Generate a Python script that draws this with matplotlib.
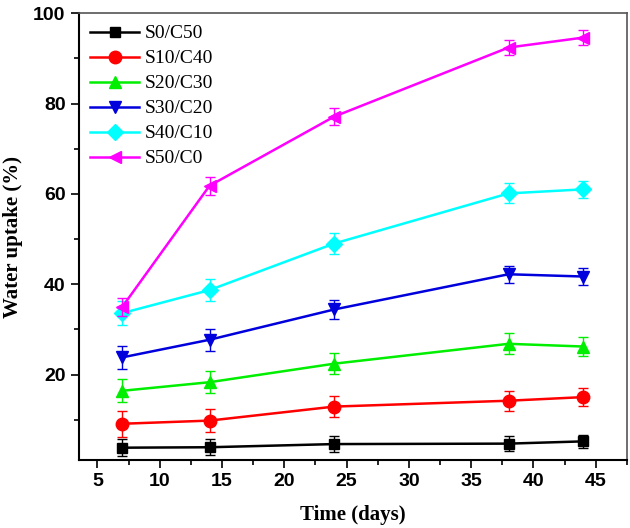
import matplotlib.pyplot as plt
from matplotlib.ticker import MultipleLocator

# datos
days = [7, 14, 24, 38, 44]
labels = ['S0/C50', 'S10/C40', 'S20/C30', 'S30/C20', 'S40/C10', 'S50/C0']
s0 = [3.8, 3.9, 4.6, 4.7, 5.2]
s10 = [9.1, 9.8, 12.9, 14.2, 15.0]
s20 = [16.4, 18.3, 22.4, 26.8, 26.2]
s30 = [23.8, 27.7, 34.4, 42.2, 41.7]
s40 = [33.6, 38.7, 49.0, 60.1, 61.0]
s50 = [35.0, 61.8, 77.1, 92.4, 94.6]
err0 = [1.9, 1.8, 1.7, 1.6, 1.5]
err10 = [2.9, 2.6, 2.3, 2.2, 2.0]
err20 = [2.5, 2.4, 2.3, 2.3, 2.0]
err30 = [2.6, 2.4, 2.1, 1.9, 1.8]
err40 = [2.6, 2.4, 2.3, 2.2, 1.9]
err50 = [2.0, 2.0, 1.8, 1.7, 1.6]

series = [s0, s10, s20, s30, s40, s50]
errors = [err0, err10, err20, err30, err40, err50]
colors = ['black', 'red', '#00ee00', '#0000dd', 'cyan', 'magenta']
markers = ['s', 'o', '^', 'v', 'D', '<']
sizes = [7, 9, 9, 9, 8, 9]

fig = plt.figure(figsize=(6.3, 5.28), dpi=100)
ax = fig.add_axes([0.125, 0.129, 0.87, 0.846])

for y, e, c, m, ms, lab in zip(series, errors, colors, markers, sizes, labels):
    ax.errorbar(days, y, yerr=e, color=c, fmt='none', elinewidth=1.0,
                capsize=3.5, capthick=1.0)
    ax.plot(days, y, color=c, marker=m, markersize=ms, lw=1.8, label=lab)

ax.set_xlim(3.5, 47.5)
ax.set_ylim(1.1, 100)
ax.xaxis.set_major_locator(MultipleLocator(5))
ax.xaxis.set_minor_locator(MultipleLocator(2.5))
ax.yaxis.set_major_locator(MultipleLocator(20))
ax.yaxis.set_minor_locator(MultipleLocator(10))
ax.tick_params(which='both', direction='out', top=False, right=False, width=1.2)
ax.tick_params(which='major', length=6, labelsize=14)
ax.tick_params(which='minor', length=3.5)
for lbl in ax.get_xticklabels() + ax.get_yticklabels():
    lbl.set_fontfamily('Liberation Sans')
    lbl.set_fontweight('bold')
for s in ['left', 'bottom']:
    ax.spines[s].set_linewidth(1.5)
for s in ['top', 'right']:
    ax.spines[s].set_linewidth(1.2)
    ax.spines[s].set_color('#555555')

ax.set_xlabel('Time (days)', family='Liberation Serif', fontsize=15,
              fontweight='bold', labelpad=11)
ax.set_ylabel('Water uptake (%)', family='Liberation Serif', fontsize=15,
              fontweight='bold', labelpad=7)

ax.legend(loc='upper left', frameon=False, handlelength=2.5, handletextpad=0.3,
          labelspacing=0.38, borderaxespad=0.2,
          prop={'family': 'Liberation Serif', 'size': 14})

fig.savefig('out.png')
